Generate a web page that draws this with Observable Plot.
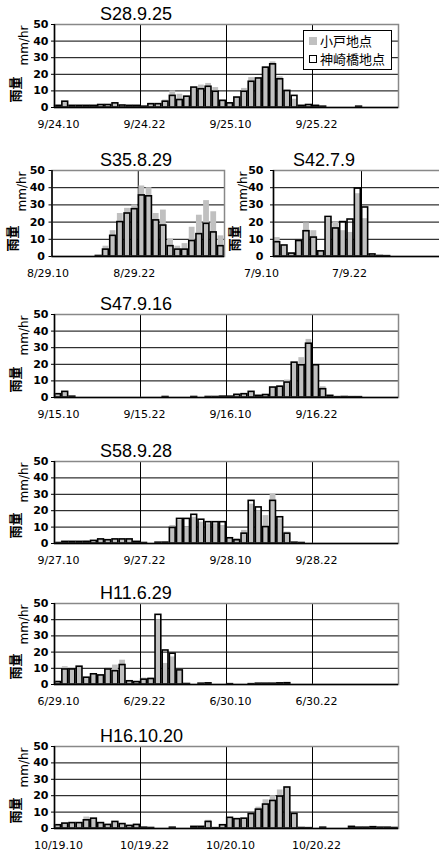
<!DOCTYPE html>
<html><head><meta charset="utf-8">
<script src="https://cdn.jsdelivr.net/npm/d3@7"></script>
<script src="https://cdn.jsdelivr.net/npm/@observablehq/plot@0.6"></script>
<style>
html,body{margin:0;padding:0;background:#fff;width:439px;height:854px;overflow:hidden;}
#root{position:relative;width:439px;height:854px;overflow:hidden;}
.title{position:absolute;font:18px "Liberation Sans",Arial,sans-serif;color:#000;transform:translateY(-50%);white-space:nowrap;line-height:1;}
.panel{position:absolute;}
.legend{position:absolute;left:303px;top:30px;width:87px;height:38px;border:1.5px solid #000;background:#fff;font:13px "Noto Sans CJK JP",sans-serif;color:#000;}
.legend .row{position:absolute;left:5px;height:16px;line-height:16px;white-space:nowrap;}
.legend .sw{display:inline-block;width:8px;height:8px;margin-right:3px;vertical-align:middle;position:relative;top:-1px;}
</style></head><body><div id="root"></div><script>
// ---- data (mm/hr, hourly) ----
const seriesNames = ["小戸地点", "神崎橋地点"];
const yTicks = [0, 10, 20, 30, 40, 50];

const s28Labels = ["9/24.10", "9/24.22", "9/25.10", "9/25.22"];
const s28Kodo = [1,3,1,1,1,1,1.5,1.5,2.5,1.2,1,1, 0.5,2.5,2.5,4.5,10,8,7,12,13.5,14.5,12,4.5, 3,6,11.5,18,17.5,24.5,27.5,18.5,9,5,0.5,1.5, 1,0.5,0,0,0,0,0.5,0,0,0,0,0];
const s28Kanzaki = [1,3.5,1,1,1,1,1.5,1.5,2.5,1.2,1,1, 0.5,2,2,3.5,7,4.5,6.5,12,11,12.5,9.5,4, 2.5,6,9.5,15.5,17.5,24,26,17,10,7,1,1.5, 1,0.5,0,0,0,0,0.5,0,0,0,0,0];

const s35Labels = ["8/29.10", "8/29.22"];
const s35Kodo = [0,0,0,0,0,0,0,6,15,25,28,30,41,40,25,27,10,6,7.5,17,24,32.5,26,12];
const s35Kanzaki = [0,0,0,0,0,0,0.3,4,12,20,25,27.5,35.5,35,21,18,6,4,4,9,13,19,14,6];

const s42Labels = ["7/9.10", "7/9.22"];
const s42Kodo = [11,6,2,9,19.5,15,3,22,20,15,14,36.5,22,1,0.3,0.2,0,0,0,0,0,0,0,0];
const s42Kanzaki = [8.3,6.4,1.7,9,14.7,11,3,23,16.3,20,21.5,39.5,28.5,1.2,0.3,0.2,0,0,0,0,0,0,0,0];

const s47Labels = ["9/15.10", "9/15.22", "9/16.10", "9/16.22"];
const s47Kodo = [2,3,0.5,0,0,0,0,0,0,0,0,0, 0,0,0,0.3,0,0,0,0.3,0,0.3,0.3,0.8, 0.5,2,2,3,1,1.5,6,7,10.5,21,24,35,19,6.5, 1,0.2,0.5,0.2,0.2,0,0,0,0,0];
const s47Kanzaki = [2,3.4,0.5,0,0,0,0,0,0,0,0,0, 0,0,0,0.3,0,0,0,0.3,0,0.3,0.3,0.5, 0.5,1.6,2,3.4,1,1.5,6,6.5,9,21,19.4,32.4,19.4,5, 1,0.2,0.3,0.2,0.2,0,0,0,0,0];

const s58Labels = ["9/27.10", "9/27.22", "9/28.10", "9/28.22"];
const s58Kodo = [0.3,1,1,1,1.5,1.6,2.5,2.5,2.5,2.5,2.5,1, 0.3,0,0.5,1,11,14,10,16,13,12,12,11, 3,3,8,24,20,17,30,15,7,0.5,0.3,0, 0,0,0,0,0,0,0,0,0,0,0,0];
const s58Kanzaki = [0.3,1,1,1,1,1.6,2.5,2,2.5,2.5,2.5,1, 0.3,0,0.5,0.5,9.5,15,15,17.5,14.5,13,13,13, 3.2,2,6,26,22,10,26,16,6,0.5,0.3,0, 0,0,0,0,0,0,0,0,0,0,0,0];

const h11Labels = ["6/29.10", "6/29.22", "6/30.10", "6/30.22"];
const h11Kodo = [2,11,9.5,11,4.2,6,6,10.5,12,15,2,1.5, 4,4,40,13,17,8,0.3,0,0.5,0.7,0,0, 0.2,0,0,0.2,0.5,0.5,0.5,0.7,0.8,0,0,0, 0,0,0,0,0,0,0,0,0,0,0,0];
const h11Kanzaki = [1.5,9.3,9.3,11,4.2,6.3,5.6,9.3,8.2,12,2,1.5, 3,3.4,43,21,19,8.7,0.3,0,0.5,0.7,0,0, 0.2,0,0,0.2,0.5,0.5,0.5,0.7,0.8,0,0,0, 0,0,0,0,0,0,0,0,0,0,0,0];

const h16Labels = ["10/19.10", "10/19.22", "10/20.10", "10/20.22"];
const h16Kodo = [2,3,3.3,3.5,7,6,3.3,2.2,4,2.7,1.6,2.2, 0.5,0.3,0,0,0.5,0,0,1,1,5,0.2,2, 6.5,6,6,9,13,17.5,20,23.5,25,8,0.3,0.2, 0,0.5,0,0,0,1,0.5,0.5,0.8,0.5,0.5,0.3];
const h16Kanzaki = [2,3,3.3,3.3,5,6,3.3,2.2,4,2.7,1.6,2.2, 0.5,0.3,0,0,0.5,0,0,1,1,4,0.2,2, 6.5,5.7,6,8.8,11.5,14.6,16.8,19.5,25,8.8,0.3,0.2, 0,0.5,0,0,0,1,0.5,0.5,0.8,0.5,0.5,0.3];

// ---- layout ----
const root = document.getElementById("root");

function panel(cfg) {
  const {title, kodo, kanzaki, labels, plotLeft, plotRight, plotTop, plotBottom,
         svgLeft, svgWidth, titleX, labelDx, yPad} = cfg;
  const n = kodo.length;
  const xTicks = labels.map((_, k) => k * 12);
  const data = kodo.map((v, i) => ({i, kodo: v, kanzaki: kanzaki[i]}));
  const mt = 6, mb = 30;
  const h = plotBottom - plotTop;
  const chart = Plot.plot({
    width: svgWidth,
    height: h + mt + mb,
    marginLeft: plotLeft - svgLeft,
    marginRight: svgLeft + svgWidth - plotRight,
    marginTop: mt,
    marginBottom: mb,
    x: {domain: [0, n]},
    y: {domain: [0, 50]},
    style: {background: "transparent", fontFamily: "DejaVu Sans, sans-serif", fontSize: "11px", color: "#000", overflow: "visible"},
    marks: [
      Plot.ruleY(yTicks.filter(t => t > 0 && t < 50), {stroke: "#000", strokeWidth: 1}),
      Plot.ruleX(xTicks.filter(t => t > 0), {stroke: "#000", strokeWidth: 1}),
      Plot.rect(data.filter(d => d.kodo > 0), {x1: "i", x2: d => d.i + 1, y1: 0, y2: "kodo", fill: "#c0c0c0", insetLeft: 0.7, insetRight: 0.7}),
      Plot.rect(data.filter(d => d.kanzaki > 0), {x1: "i", x2: d => d.i + 1, y1: 0, y2: "kanzaki", fill: "none", stroke: "#000", strokeWidth: 1.6, insetLeft: 0.7, insetRight: 0.7}),
      Plot.frame({stroke: "#888", strokeWidth: 1.5}),
      Plot.ruleY([0], {stroke: "#000", strokeWidth: 1.5}),
      Plot.ruleX([0], {stroke: "#000", strokeWidth: 1.5}),
      Plot.axisY({ticks: yTicks, tickSize: 3, tickPadding: yPad, label: null, fontWeight: "bold", fontSize: 11}),
      Plot.axisX({ticks: xTicks, tickFormat: t => labels[t / 12], tickSize: 0, tickPadding: 13, label: null, dx: labelDx, fontSize: 11}),
      Plot.text(["雨量"], {text: d => d, frameAnchor: "bottom-left", rotate: -90, textAnchor: "start", dx: -35, dy: -5, fontSize: 13, fontWeight: "bold", fontFamily: "Noto Sans CJK JP"}),
      Plot.text(["mm/hr"], {text: d => d, frameAnchor: "top-left", rotate: -90, textAnchor: "end", dx: -35, dy: 1, fontSize: 12, fontFamily: "DejaVu Sans"})
    ]
  });
  chart.classList.add("panel");
  chart.style.left = svgLeft + "px";
  chart.style.top = (plotTop - mt) + "px";
  root.appendChild(chart);
  const t = document.createElement("div");
  t.className = "title";
  t.textContent = title;
  t.style.left = titleX + "px";
  t.style.top = (plotTop - 10.5) + "px";
  root.appendChild(t);
}

const full = {plotLeft: 54, plotRight: 398, svgLeft: 0, svgWidth: 439, titleX: 100, labelDx: 4, yPad: 3};

panel({...full, title: "S28.9.25", kodo: s28Kodo, kanzaki: s28Kanzaki, labels: s28Labels, plotTop: 24, plotBottom: 107});
panel({title: "S35.8.29", kodo: s35Kodo, kanzaki: s35Kanzaki, labels: s35Labels, plotTop: 170, plotBottom: 256,
       plotLeft: 51.5, plotRight: 224, svgLeft: 0, svgWidth: 226, titleX: 100, labelDx: -4, yPad: 4});
panel({title: "S42.7.9", kodo: s42Kodo, kanzaki: s42Kanzaki, labels: s42Labels, plotTop: 170, plotBottom: 256,
       plotLeft: 273, plotRight: 449, svgLeft: 225, svgWidth: 226, titleX: 293, labelDx: -12, yPad: 7});
panel({...full, title: "S47.9.16", kodo: s47Kodo, kanzaki: s47Kanzaki, labels: s47Labels, plotTop: 314, plotBottom: 397});
panel({...full, title: "S58.9.28", kodo: s58Kodo, kanzaki: s58Kanzaki, labels: s58Labels, plotTop: 461, plotBottom: 543});
panel({...full, title: "H11.6.29", kodo: h11Kodo, kanzaki: h11Kanzaki, labels: h11Labels, plotTop: 603, plotBottom: 684});
panel({...full, title: "H16.10.20", kodo: h16Kodo, kanzaki: h16Kanzaki, labels: h16Labels, plotTop: 746, plotBottom: 828});

// legend (S28 panel)
const lg = document.createElement("div");
lg.className = "legend";
lg.innerHTML =
  `<div class="row" style="top:2px"><span class="sw" style="background:#c0c0c0"></span>${seriesNames[0]}</div>` +
  `<div class="row" style="top:20px"><span class="sw" style="background:#fff;border:1.5px solid #000;width:6px;height:6px"></span>${seriesNames[1]}</div>`;
root.appendChild(lg);
</script></body></html>
